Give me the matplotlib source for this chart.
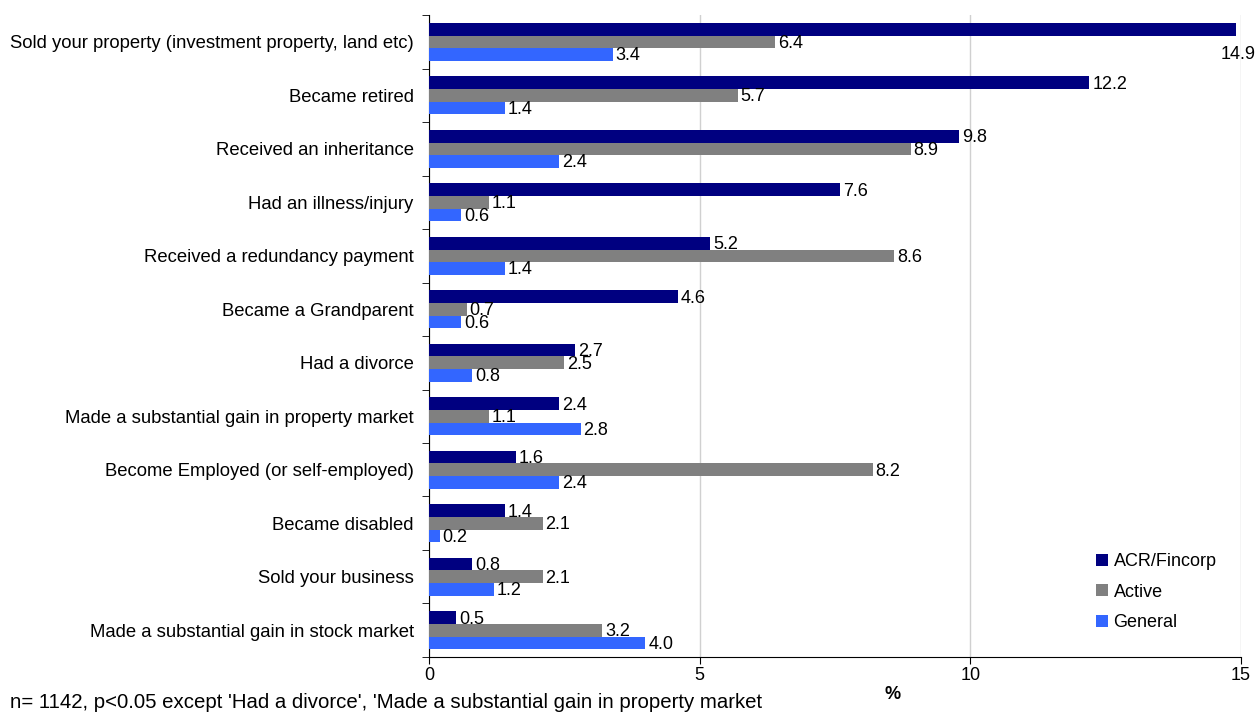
import matplotlib
matplotlib.use("Agg")
import matplotlib.pyplot as plt
import numpy as np

plt.rcParams['font.family'] = ['Liberation Sans', 'DejaVu Sans']

categories = [
    "Sold your property (investment property, land etc)",
    "Became retired",
    "Received an inheritance",
    "Had an illness/injury",
    "Received a redundancy payment",
    "Became a Grandparent",
    "Had a divorce",
    "Made a substantial gain in property market",
    "Become Employed (or self-employed)",
    "Became disabled",
    "Sold your business",
    "Made a substantial gain in stock market",
]
acr_fincorp = [14.9, 12.2, 9.8, 7.6, 5.2, 4.6, 2.7, 2.4, 1.6, 1.4, 0.8, 0.5]
active = [6.4, 5.7, 8.9, 1.1, 8.6, 0.7, 2.5, 1.1, 8.2, 2.1, 2.1, 3.2]
general = [3.4, 1.4, 2.4, 0.6, 1.4, 0.6, 0.8, 2.8, 2.4, 0.2, 1.2, 4.0]
series_names = ["ACR/Fincorp", "Active", "General"]
colors = ["#000080", "#808080", "#3366FF"]
x_ticks = [0, 5, 10, 15]

FS = 13

fig = plt.figure(figsize=(12.55, 7.18), dpi=100)
ax = fig.add_axes([0.3418, 0.085, 0.9888 - 0.3418, 0.979 - 0.085])

y = np.arange(len(categories))
off = 0.235
h = 0.235
XMAX = 15

for k, (vals, name, col) in enumerate(zip([acr_fincorp, active, general], series_names, colors)):
    pos = y + (k - 1) * off
    ax.barh(pos, vals, height=h, color=col, label=name, zorder=3)
    for p, v in zip(pos, vals):
        txt = f"{v:.1f}"
        if v + 0.6 > XMAX:
            # label does not fit to the right: put it under the bar end
            ax.annotate(txt, (v, p + 2 * off), ha="center", va="center",
                        fontsize=FS, xytext=(2, 0), textcoords="offset points",
                        annotation_clip=False)
        else:
            ax.annotate(txt, (v, p), ha="left", va="center", fontsize=FS,
                        xytext=(2, -1), textcoords="offset points")

ax.set_xlim(0, XMAX)
ax.set_ylim(len(categories) - 0.5, -0.5)

ax.set_xticks(x_ticks)
ax.set_xticklabels([str(t) for t in x_ticks], fontsize=FS)
ax.tick_params(axis="x", direction="out", length=5, pad=2, color="black")

ax.set_yticks(y)
ax.set_yticklabels(categories, fontsize=13.3)
ax.tick_params(axis="y", which="major", length=0, pad=11)
ax.set_yticks(np.arange(len(categories) + 1) - 0.5, minor=True)
ax.tick_params(axis="y", which="minor", direction="out", length=5, color="black")

ax.grid(axis="x", color="#d0d0d0", linewidth=1, zorder=0)
ax.spines["top"].set_visible(False)
ax.spines["right"].set_visible(False)
ax.spines["left"].set_color("black")
ax.spines["bottom"].set_color("black")

ax.set_xlabel("%", fontsize=FS, fontweight="bold", va="center")
ax.xaxis.set_label_coords(0.571, -0.058)

leg = ax.legend(loc="lower right", bbox_to_anchor=(0.99, 0.015), frameon=False,
                fontsize=FS, handlelength=0.65, handleheight=0.65,
                handletextpad=0.3, labelspacing=0.75)

fig.text(10 / 1255, 1 - 708 / 718, "n= 1142, p<0.05 except 'Had a divorce', 'Made a substantial gain in property market",
         fontsize=14.7, ha="left", va="baseline")

fig.savefig("out.png", dpi=100)
